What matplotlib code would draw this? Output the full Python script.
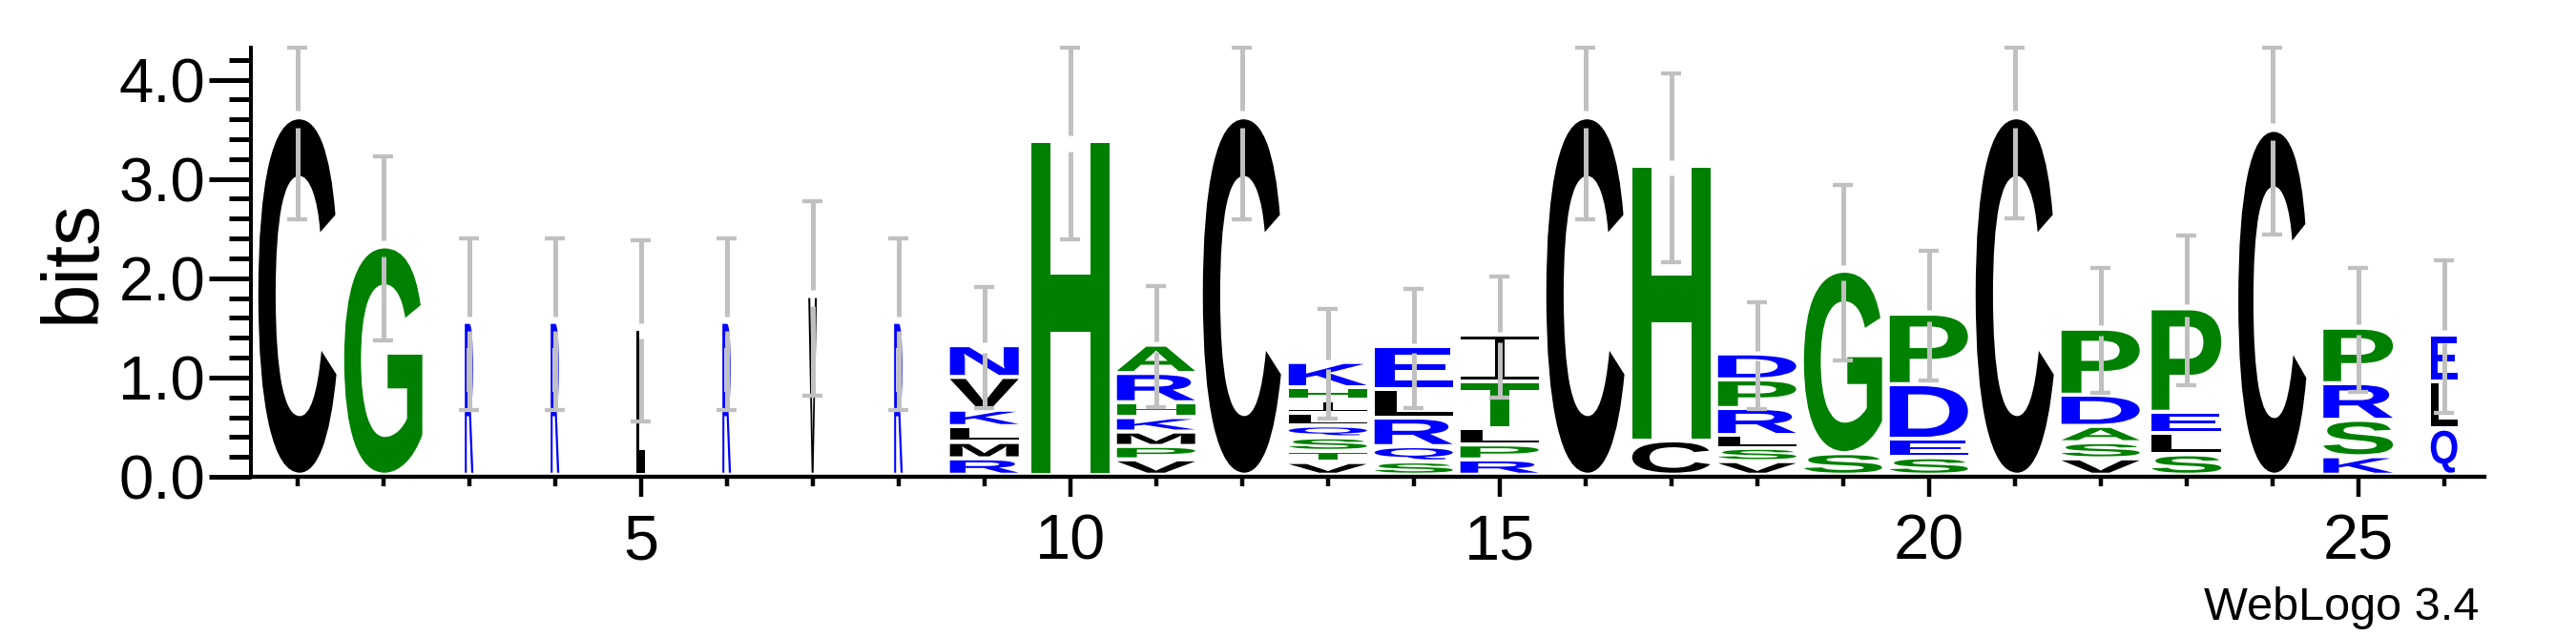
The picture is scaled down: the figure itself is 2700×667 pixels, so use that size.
import matplotlib
matplotlib.use("Agg")
import matplotlib.pyplot as plt
import numpy as np
from matplotlib.textpath import TextPath
from matplotlib.font_manager import FontProperties
from matplotlib.patches import PathPatch
from matplotlib.path import Path
from matplotlib.transforms import Affine2D
from matplotlib.ticker import FormatStrFormatter

plt.rcParams['font.family'] = ['Liberation Sans', 'DejaVu Sans']

# letters of each column, bottom to top
col_letters = ["C", "G", "R", "R", "L", "R", "V", "R", "RMLKVN", "H",
               "VPMKHRA", "C", "VTSQLIHK", "SQRLE", "RPLTI", "C", "CH",
               "VSLRPD", "SG", "SEDP", "C", "VSADP", "SLEP", "C", "KSRP", "QLE"]
# bits of each letter, same order
col_bits = [
    [3.60], [2.30], [1.54], [1.54], [1.47], [1.54], [1.80], [1.54],
    [0.165, 0.165, 0.16, 0.165, 0.33, 0.32],
    [3.36],
    [0.155, 0.135, 0.145, 0.145, 0.15, 0.295, 0.285],
    [3.60],
    [0.128, 0.112, 0.137, 0.119, 0.128, 0.128, 0.129, 0.255],
    [0.134, 0.154, 0.288, 0.288, 0.432],
    [0.154, 0.151, 0.166, 0.468, 0.47],
    [3.60],
    [0.346, 2.765],
    [0.137, 0.134, 0.129, 0.272, 0.288, 0.262],
    [0.218, 1.837],
    [0.176, 0.186, 0.55, 0.71],
    [3.60],
    [0.165, 0.163, 0.164, 0.314, 0.665],
    [0.206, 0.216, 0.212, 1.042],
    [3.474],
    [0.186, 0.367, 0.369, 0.559],
    [0.464, 0.477, 0.47],
]
# error (+/-) of each column
col_err = [1.01, 0.93, 0.865, 0.865, 0.915, 0.865, 0.98, 0.865, 0.61, 0.97,
           0.61, 1.01, 0.55, 0.60, 0.61, 1.01, 0.95, 0.54, 0.885, 0.65,
           1.0, 0.63, 0.755, 1.035, 0.625, 0.77]
# fraction of sequences present (column width)
col_occupancy = [1, 1, 0.11, 0.11, 0.11, 0.11, 0.11, 0.11, 0.88, 1,
                 1, 1, 1, 1, 1, 1, 1, 1, 1, 1,
                 1, 1, 0.89, 0.87, 0.89, 0.34]

colours = {}
for ch in "GHAPST":
    colours[ch] = "#008000"
for ch in "NKREDQ":
    colours[ch] = "#0000ff"
for ch in "CVLMIFWY":
    colours[ch] = "#000000"

fp = FontProperties(family='Liberation Sans', weight='bold')


def glyph(ch):
    if ch == "I":
        # serif I, the way weblogo draws it
        t = 0.065
        s = 0.06
        rects = [(0, 0, 1, t), (0, 1 - t, 1, 1), (0.5 - s, t, 0.5 + s, 1 - t)]
        verts = []
        codes = []
        for x0, y0, x1, y1 in rects:
            verts += [(x0, y0), (x1, y0), (x1, y1), (x0, y1), (x0, y0)]
            codes += [Path.MOVETO, Path.LINETO, Path.LINETO, Path.LINETO, Path.CLOSEPOLY]
        return Path(verts, codes)
    return TextPath((0, 0), ch, size=1, prop=fp)


def draw_letter(ax, ch, x, y0, h, w):
    p = glyph(ch)
    ext = p.get_extents()
    tr = (Affine2D().translate(-ext.x0, -ext.y0)
          .scale(w / ext.width, h / ext.height)
          .translate(x - w / 2, y0))
    ax.add_patch(PathPatch(tr.transform_path(p), facecolor=colours[ch],
                           edgecolor='none', lw=0, zorder=2))


fig = plt.figure(figsize=(27, 6.67), dpi=100)
ax = fig.add_axes([263 / 2700, 167 / 667, (2604 - 263) / 2700, 450 / 667])

ymax = np.log2(20)
pad = 0.041          # blank under each letter
full_w = 0.91

positions = np.arange(1, len(col_letters) + 1)
for pos, letters, bits, occ in zip(positions, col_letters, col_bits, col_occupancy):
    y = 0
    for ch, b in zip(letters, bits):
        draw_letter(ax, ch, pos, y + pad, b - pad, full_w * occ)
        y += b

tops = np.array([sum(b) for b in col_bits])
err = np.array(col_err)
lo = tops - err
hi = np.minimum(tops + err, ymax)
gap = 0.085 * err
grey = "#c0c0c0"
ax.vlines(positions, lo, tops - gap, color=grey, lw=3.6, zorder=3, clip_on=False)
ax.vlines(positions, tops + gap, hi, color=grey, lw=3.6, zorder=3, clip_on=False)
ax.hlines(lo, positions - 0.12, positions + 0.12, color=grey, lw=3.1, zorder=3, clip_on=False)
ax.hlines(hi, positions - 0.12, positions + 0.12, color=grey, lw=3.1, zorder=3, clip_on=False)

ax.set_xlim(0.459, 26.47)
ax.set_ylim(0, ymax)

ax.spines['top'].set_visible(False)
ax.spines['right'].set_visible(False)
ax.spines['left'].set_linewidth(2.9)
ax.spines['bottom'].set_linewidth(3.1)

ax.set_xticks(range(5, 27, 5))
ax.set_xticks(range(1, 27), minor=True)
ax.set_yticks([0, 1, 2, 3, 4])
ax.set_yticks(np.arange(0, 4.3, 0.2), minor=True)
ax.yaxis.set_major_formatter(FormatStrFormatter('%.1f'))
ax.tick_params(axis='x', which='major', length=15, width=3.2, pad=13, labelsize=48)
ax.tick_params(axis='x', which='minor', length=7.5, width=3.2)
ax.tick_params(axis='y', which='major', length=31.5, width=3.6, pad=3, labelsize=47)
ax.tick_params(axis='y', which='minor', length=16.5, width=3.6)

fig.text(77 / 2700, 1 - 274.5 / 667, "bits", rotation=90, ha='center', va='center', fontsize=60)
fig.text(2598 / 2700, (667 - 649.5) / 667, "WebLogo 3.4", ha='right', va='baseline', fontsize=35)

fig.savefig("out.png", dpi=100)
